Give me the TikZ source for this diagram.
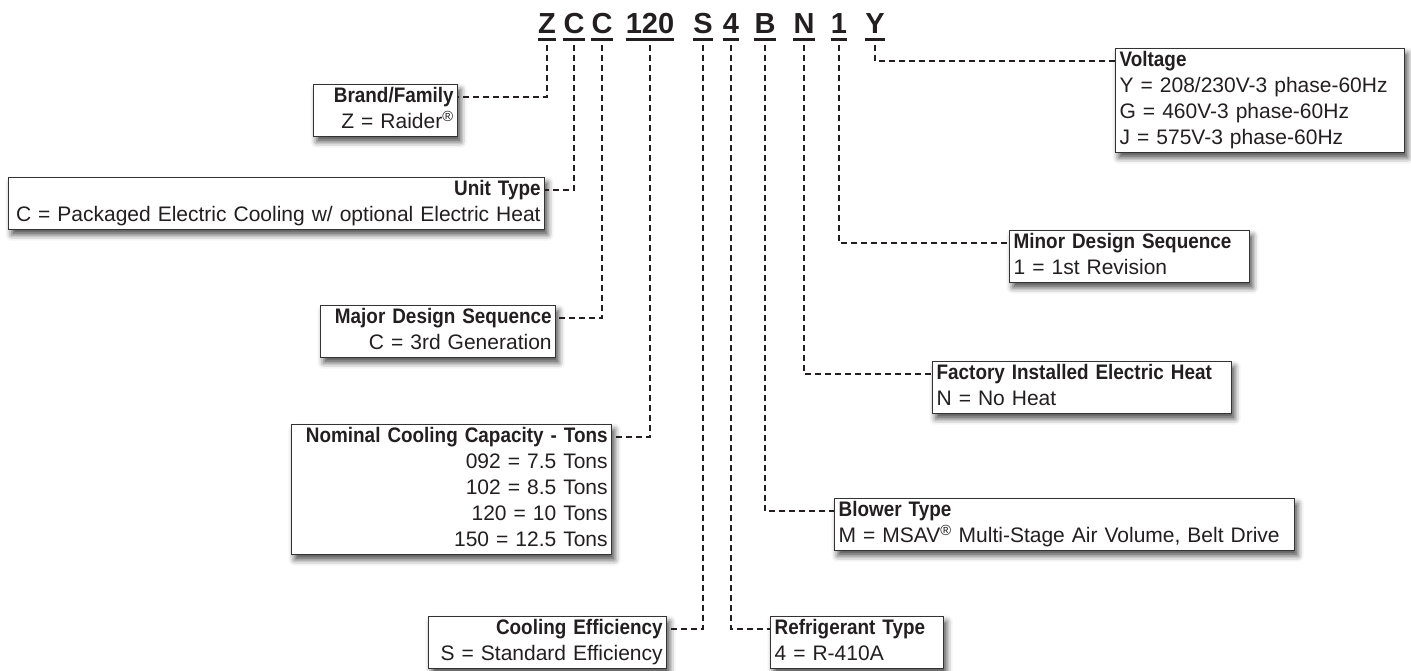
\documentclass[tikz,border=0pt]{standalone}
\usepackage{fontspec}
\setmainfont{Liberation Sans}
\newfontfamily\tfont[FakeStretch=0.9]{Liberation Sans}
\usetikzlibrary{shadows.blur}
\definecolor{ink}{HTML}{231F20}
\definecolor{boxline}{HTML}{333333}
\newcommand\nohy{\hyphenpenalty=10000\relax}
\tikzset{
  box/.style={draw=boxline, line width=1.3pt, fill=white, inner xsep=4pt, inner ysep=0pt,
    anchor=north west, font=\fontsize{21}{26}\selectfont\nohy, text=ink,
    blur shadow={shadow xshift=3pt, shadow yshift=-5pt, shadow blur radius=6pt, shadow opacity=70}},
  lbox/.style={box, align=right},
  rbox/.style={box, align=left},
  conn/.style={draw=ink, line width=2pt, dash pattern=on 6pt off 4pt},
  code/.style={font=\fontsize{29}{30}\selectfont\bfseries, text=ink, inner sep=0pt, anchor=base},
  ul/.style={draw=ink, line width=3pt},
}
\newcommand\ttl[1]{\mbox{\tfont\bfseries #1}\strut}
\newcommand\bline[1]{\mbox{#1}\strut}
\begin{document}
\begin{tikzpicture}[x=1pt,y=-1pt]
\useasboundingbox (0,0) rectangle (1411,670);
% header code
\node[code] (hZ)   at (547,33) {Z};
\node[code] (hC)   at (574,33) {C};
\node[code] (hCC)  at (602,33) {C};
\node[code] (h120) at (650,33) {120};
\node[code] (hS)   at (703,33) {S};
\node[code] (h4)   at (731,33) {4};
\node[code] (hB)   at (765,33) {B};
\node[code] (hN)   at (804,33) {N};
\node[code] (h1)   at (839,33) {1};
\node[code] (hY)   at (875,33) {Y};
\foreach \n in {hZ,hC,hCC,h120,hS,h4,hB,hN,h1,hY}
  \draw[ul] ([yshift=-6pt]\n.base west) -- ([yshift=-6pt]\n.base east);
% left boxes
\node[lbox, text width=136pt] (brand) at (313,84)
  {\ttl{Brand/Family}\\\bline{Z = Raider\textsuperscript{®}}};
\node[lbox, text width=528pt] (unit) at (8,177)
  {\ttl{Unit Type}\\\bline{C = Packaged Electric Cooling w/ optional Electric Heat}};
\node[lbox, text width=227pt] (major) at (320,305)
  {\ttl{Major Design Sequence}\\\bline{C = 3rd Generation}};
\node[lbox, text width=312pt] (nominal) at (291,424)
  {\ttl{Nominal Cooling Capacity - Tons}\\\bline{092 = 7.5 Tons}\\\bline{102 = 8.5 Tons}\\\bline{120 = 10 Tons}\\\bline{150 = 12.5 Tons}};
\node[lbox, text width=230pt] (eff) at (428,616)
  {\ttl{Cooling Efficiency}\\\bline{S = Standard Efficiency}};
% right boxes
\node[rbox, text width=165pt] (refr) at (770,616)
  {\ttl{Refrigerant Type}\\\bline{4 = R-410A}};
\node[rbox, text width=452pt] (blower) at (834,498)
  {\ttl{Blower Type}\\\bline{M = MSAV\textsuperscript{®} Multi-Stage Air Volume, Belt Drive}};
\node[rbox, text width=291pt] (factory) at (932,361)
  {\ttl{Factory Installed Electric Heat}\\\bline{N = No Heat}};
\node[rbox, text width=232pt] (minor) at (1009,230)
  {\ttl{Minor Design Sequence}\\\bline{1 = 1st Revision}};
\node[rbox, text width=281pt] (volt) at (1115,48)
  {\ttl{Voltage}\\\bline{Y = 208/230V-3 phase-60Hz}\\\bline{G = 460V-3 phase-60Hz}\\\bline{J = 575V-3 phase-60Hz}};
% connectors
\draw[conn] ([yshift=-12pt]hZ.base)   |- ([yshift=-13pt]brand.north east);
\draw[conn] ([yshift=-12pt]hC.base)   |- ([yshift=-13pt]unit.north east);
\draw[conn] ([yshift=-12pt]hCC.base)  |- ([yshift=-13pt]major.north east);
\draw[conn] ([yshift=-12pt]h120.base) |- ([yshift=-13pt]nominal.north east);
\draw[conn] ([yshift=-12pt]hS.base)   |- ([yshift=-13pt]eff.north east);
\draw[conn] ([yshift=-12pt]h4.base)   |- ([yshift=-13pt]refr.north west);
\draw[conn] ([yshift=-12pt]hB.base)   |- ([yshift=-13pt]blower.north west);
\draw[conn] ([yshift=-12pt]hN.base)   |- ([yshift=-13pt]factory.north west);
\draw[conn] ([yshift=-12pt]h1.base)   |- ([yshift=-13pt]minor.north west);
\draw[conn] ([yshift=-12pt]hY.base)   |- ([yshift=-13pt]volt.north west);
\end{tikzpicture}
\end{document}
